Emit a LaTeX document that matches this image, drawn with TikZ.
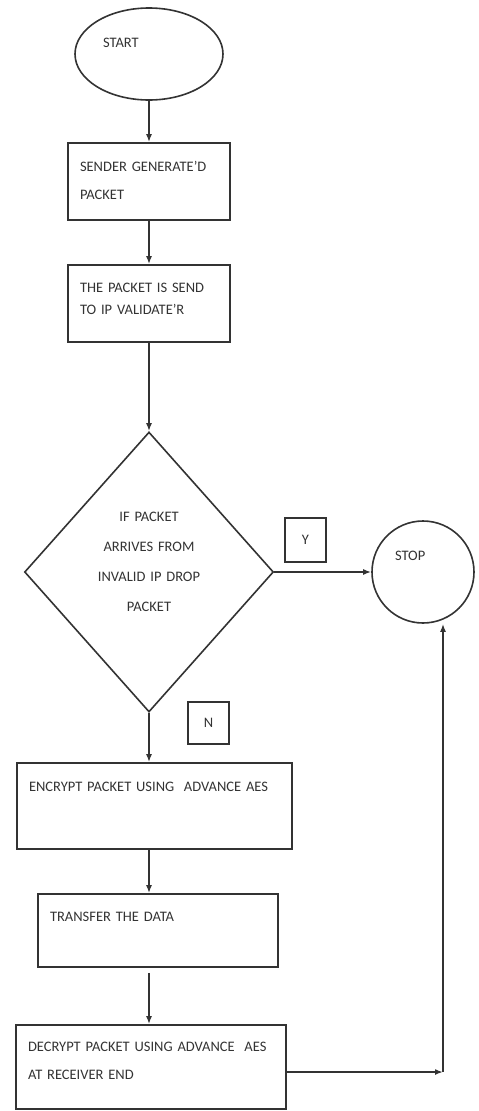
\documentclass[tikz,border=0pt]{standalone}
\usepackage{fontspec}
\setmainfont{Carlito}
\usetikzlibrary{shapes.geometric,arrows.meta}

\begin{document}
\begin{tikzpicture}[x=1pt,y=-1pt,
  line width=1.6pt, color=black!80,
  >={Latex[length=8pt,width=6pt]},
  every node/.style={font=\fontsize{14.5}{28}\selectfont},
  startshape/.style={draw, ellipse, minimum width=148pt, minimum height=92pt,
    inner sep=0pt, text width=92pt, align=left, text height=10pt, text depth=23pt},
  stopshape/.style={draw, circle, minimum size=102pt, inner sep=0pt,
    text width=56pt, align=left, text height=10pt, text depth=33pt},
  box/.style={draw, rectangle, inner sep=0pt, inner xsep=12pt, align=left},
  decision/.style={draw, diamond, minimum width=249pt, minimum height=280pt,
    inner sep=0pt, text width=110pt, align=center,
    font=\fontsize{14.5}{30}\selectfont, text height=10pt, text depth=111pt},
  tag/.style={draw, rectangle, minimum width=41pt, minimum height=44pt, inner sep=0pt}]
  \useasboundingbox (0,0) rectangle (479,1111);

  % Debut
  \node[startshape] (start) at (149,54) {START};
  \node[box, text width=138pt, text height=28.5pt, text depth=48.5pt] (sender) at (149,181.5) {SENDER GENERATE'D\\PACKET};
  \node[box, text width=138pt, font=\fontsize{14.5}{22}\selectfont, text height=27.5pt, text depth=49.5pt] (validate) at (149,303.5) {THE PACKET IS SEND\\TO IP VALIDATE'R};

  % Test
  \node[decision] (check) at (149,572) {IF PACKET\\ARRIVES FROM\\INVALID IP DROP\\PACKET};
  \node[stopshape] (stop) at (423,572) {STOP};
  \node[tag] (yes) at (305.5,540) {Y};
  \node[tag, minimum height=42pt] (no) at (208.5,723) {N};

  % Traitement
  \node[box, text width=251pt, text height=28.5pt, text depth=57.5pt] (encrypt) at (154.5,806) {ENCRYPT PACKET USING~ ADVANCE AES};
  \node[box, text width=216pt, text height=27.5pt, text depth=45.5pt] (transfer) at (158,930.5) {TRANSFER THE DATA};
  \node[box, text width=246pt, text height=26.5pt, text depth=57.5pt] (decrypt) at (151,1067) {DECRYPT PACKET USING ADVANCE~ AES\\AT RECEIVER END};
  \coordinate (turn) at (443,1072);

  % Fleches
  \draw[->] (start) -- (sender);
  \draw[->] (sender) -- (validate);
  \draw[->] (validate) -- (check);
  \draw[->] (check) -- (stop);
  \draw[->] (check.south) -- (check.south |- encrypt.north);
  \draw[->] (check.south |- encrypt.south) -- (check.south |- transfer.north);
  \draw[->, shorten <=5pt] (check.south |- transfer.south) -- (check.south |- decrypt.north);
  \draw[->] (decrypt.east |- turn) -- (turn);
  \draw[->] (turn) -- (turn |- stop.south);
\end{tikzpicture}
\end{document}
